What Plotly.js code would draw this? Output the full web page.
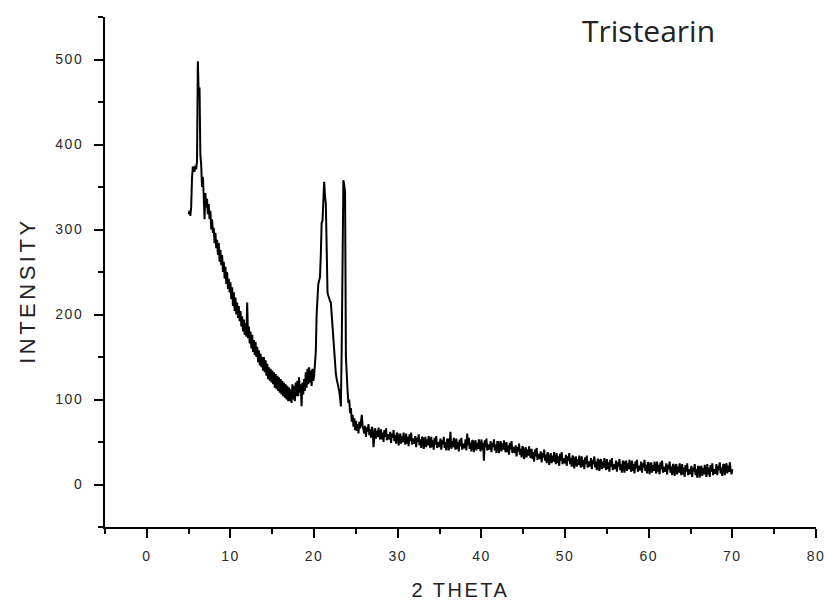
<!DOCTYPE html>
<html>
<head>
<meta charset="utf-8">
<script src="https://cdn.plot.ly/plotly-3.0.1.min.js"></script>
<style>
  html, body { margin: 0; padding: 0; background: #fff; }
  #chart { width: 826px; height: 603px; }
  .xtick text, .ytick text { letter-spacing: 1.5px; }
  .xtitle { letter-spacing: 2.5px; }
</style>
</head>
<body>
<div id="chart"></div>
<script>
// 2-theta sampling: start and step (degrees)
const thetaStart = 5.0;
const thetaStep = 0.1;

const intensity = [
  318, 322, 316, 326, 360, 374, 372, 368, 375, 371,   // 5
  380, 498, 460, 467, 388, 376, 350, 362, 340, 312,   // 6
  343, 326, 336, 318, 330, 312, 322, 300, 312, 296,   // 7
  302, 284, 296, 278, 288, 270, 284, 262, 276, 258,   // 8
  270, 250, 262, 242, 256, 236, 250, 230, 242, 226,   // 9
  238, 218, 232, 210, 226, 204, 220, 200, 214, 196,   // 10
  210, 192, 204, 186, 198, 180, 194, 176, 190, 174,   // 11
  214, 172, 186, 166, 180, 160, 176, 156, 170, 152,   // 12
  168, 150, 162, 144, 158, 140, 154, 138, 150, 134,   // 13
  150, 132, 146, 128, 142, 124, 138, 122, 136, 120,   // 14
  134, 118, 132, 114, 130, 112, 128, 110, 126, 108,   // 15
  124, 106, 122, 104, 120, 102, 118, 100, 116,  98,   // 16
  114,  98, 112,  96, 118, 100, 116,  98, 120, 104,   // 17
  122, 104, 126, 108, 118,  92, 120, 106, 124, 110,   // 18
  132, 114, 136, 118, 138, 120, 134, 116, 136, 122,   // 19
  128, 140, 156, 200, 228, 236, 240, 244, 270, 308,   // 20
  310, 330, 356, 340, 330, 280, 226, 222, 218, 216,   // 21
  214, 200, 184, 172, 150, 138, 130, 124, 120, 116,   // 22
  110, 102,  92, 162, 300, 358, 352, 344, 150, 122,   // 23
  110,  96, 100,  84,  90,  74,  82,  68,  78,  64,   // 24
   75,  63,  71,  60,  74,  66,  76,  82,  69,  64,   // 25
   60,  69,  56,  67,  62,  71,  58,  65,  55,  68,   // 26
   65,  44,  62,  66,  54,  63,  56,  67,  58,  53,   // 27
   65,  53,  61,  50,  64,  56,  66,  52,  59,  54,   // 28
   53,  62,  49,  60,  55,  64,  51,  58,  48,  61,   // 29
   59,  46,  56,  60,  48,  57,  50,  61,  52,  47,   // 30
   60,  48,  56,  45,  59,  51,  61,  47,  54,  49,   // 31
   48,  57,  44,  55,  50,  59,  46,  53,  43,  56,   // 32
   55,  42,  52,  56,  44,  53,  46,  57,  48,  43,   // 33
   56,  44,  52,  41,  55,  47,  57,  43,  50,  45,   // 34
   45,  54,  41,  52,  47,  56,  43,  50,  40,  53,   // 35
   53,  40,  50,  62,  42,  51,  44,  55,  46,  41,   // 36
   54,  42,  50,  39,  53,  45,  55,  41,  48,  43,   // 37
   44,  53,  40,  60,  46,  55,  42,  49,  39,  52,   // 38
   51,  38,  48,  52,  40,  49,  42,  53,  44,  39,   // 39
   53,  41,  49,  28,  52,  44,  54,  40,  47,  42,   // 40
   42,  51,  38,  49,  44,  53,  40,  47,  37,  50,   // 41
   50,  37,  47,  51,  39,  48,  41,  52,  43,  38,   // 42
   50,  38,  46,  35,  49,  41,  51,  37,  44,  39,   // 43
   37,  46,  33,  44,  39,  48,  35,  42,  32,  45,   // 44
   43,  30,  40,  44,  32,  41,  34,  45,  36,  31,   // 45
   42,  30,  38,  27,  41,  33,  43,  29,  36,  31,   // 46
   30,  39,  26,  37,  32,  41,  28,  35,  25,  38,   // 47
   36,  23,  33,  37,  25,  34,  27,  38,  29,  24,   // 48
   37,  25,  33,  22,  36,  28,  38,  24,  31,  26,   // 49
   26,  35,  22,  33,  28,  37,  24,  31,  21,  34,   // 50
   32,  19,  29,  33,  21,  30,  23,  34,  25,  20,   // 51
   33,  21,  29,  18,  32,  24,  34,  20,  27,  22,   // 52
   22,  31,  18,  29,  24,  33,  20,  27,  17,  30,   // 53
   29,  16,  26,  30,  18,  27,  20,  31,  22,  17,   // 54
   30,  18,  26,  15,  29,  21,  31,  17,  24,  19,   // 55
   19,  28,  15,  26,  21,  30,  17,  24,  14,  27,   // 56
   27,  14,  24,  28,  16,  25,  18,  29,  20,  15,   // 57
   28,  16,  24,  13,  27,  19,  29,  15,  22,  17,   // 58
   18,  27,  14,  25,  20,  29,  16,  23,  13,  26,   // 59
   25,  12,  22,  26,  14,  23,  16,  27,  18,  13,   // 60
   27,  15,  23,  12,  26,  18,  28,  14,  21,  16,   // 61
   16,  25,  12,  23,  18,  27,  14,  21,  11,  24,   // 62
   23,  10,  20,  24,  12,  21,  14,  25,  16,  11,   // 63
   24,  12,  20,   9,  23,  15,  25,  11,  18,  13,   // 64
   13,  22,   9,  20,  15,  24,  11,  18,   8,  21,   // 65
   21,   8,  18,  22,  10,  19,  12,  23,  14,   9,   // 66
   24,  12,  20,   9,  23,  15,  25,  11,  18,  13,   // 67
   15,  24,  11,  22,  17,  26,  13,  20,  10,  23,   // 68
   24,  11,  21,  25,  13,  22,  15,  26,  17,  12,   // 69
   18                                                // 70
];

const xTitle = "2 THETA";
const yTitle = "INTENSITY";
const sampleName = "Tristearin";

const tickFont = { family: "Liberation Sans, Arial, sans-serif", size: 14, color: "#2a2a2a" };

const trace = {
  type: "scatter",
  mode: "lines",
  x0: thetaStart,
  dx: thetaStep,
  y: intensity,
  line: { color: "#000", width: 2 },
  hoverinfo: "skip",
  showlegend: false
};

const layout = {
  width: 826,
  height: 603,
  margin: { l: 105, r: 10, t: 17, b: 76 },
  paper_bgcolor: "#fff",
  plot_bgcolor: "#fff",
  showlegend: false,
  xaxis: {
    range: [-5, 80],
    tick0: 0,
    dtick: 10,
    ticks: "outside",
    ticklen: 9,
    tickwidth: 2,
    tickcolor: "#000",
    ticklabelstandoff: 6,
    showline: true,
    linecolor: "#000",
    linewidth: 2,
    showgrid: false,
    zeroline: false,
    tickfont: tickFont,
    minor: { dtick: 5, tick0: 0, ticks: "outside", ticklen: 5, tickwidth: 2, tickcolor: "#000", showgrid: false },
    title: { text: xTitle, font: { family: "Liberation Sans, Arial, sans-serif", size: 20, color: "#222" }, standoff: 20 }
  },
  yaxis: {
    range: [-50, 550],
    tick0: 0,
    dtick: 100,
    ticks: "outside",
    ticklen: 9,
    tickwidth: 2,
    tickcolor: "#000",
    ticklabelstandoff: 8,
    showline: true,
    linecolor: "#000",
    linewidth: 2,
    showgrid: false,
    zeroline: false,
    tickfont: tickFont,
    minor: { dtick: 50, tick0: 0, ticks: "outside", ticklen: 5, tickwidth: 2, tickcolor: "#000", showgrid: false },
    title: { text: "" }
  },
  annotations: [{
    text: sampleName,
    xref: "paper", yref: "paper",
    x: 0.765, y: 0.974,
    xanchor: "center", yanchor: "middle",
    showarrow: false,
    font: { family: "Open Sans, sans-serif", size: 30, color: "#222" }
  }, {
    text: yTitle,
    xref: "paper", yref: "paper",
    x: -0.108, y: 0.463,
    xanchor: "center", yanchor: "middle",
    textangle: -90,
    showarrow: false,
    font: { family: "Liberation Sans, Arial, sans-serif", size: 22, color: "#222" }
  }]
};

Plotly.newPlot("chart", [trace], layout, { staticPlot: true, displayModeBar: false }).then(() => {
  const anns = document.querySelectorAll(".annotation-text");
  if (anns.length > 1) anns[1].style.letterSpacing = "3.5px";
});
</script>
</body>
</html>
